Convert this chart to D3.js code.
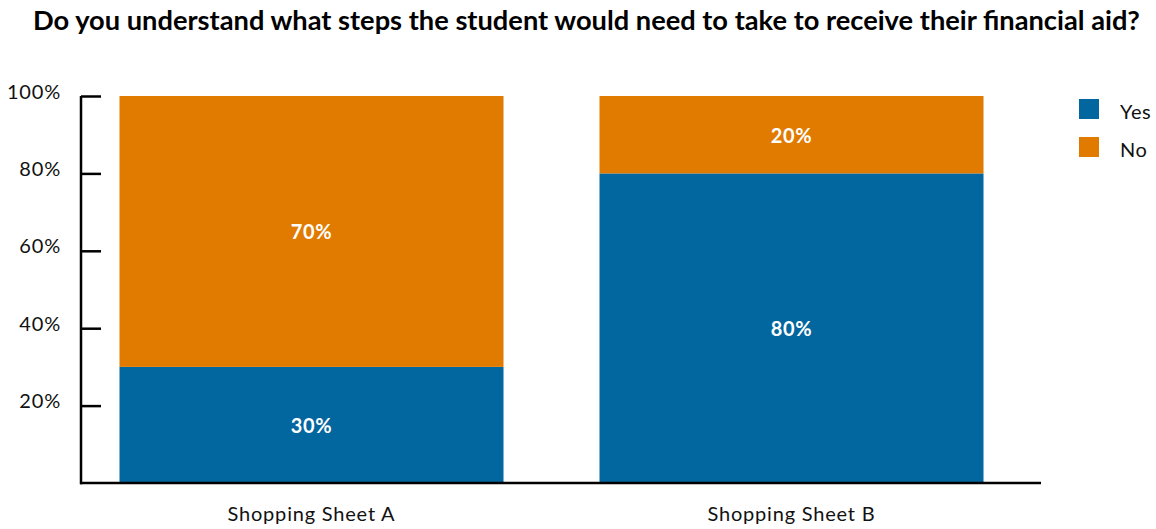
<!DOCTYPE html>
<html>
<head>
<meta charset="utf-8">
<script src="https://cdn.jsdelivr.net/npm/d3@7"></script>
<style>
  html, body { margin: 0; padding: 0; background: #fff; }
  svg { display: block; font-family: Lato, "Open Sans", sans-serif; }
</style>
</head>
<body>
<svg id="chart" width="1156" height="529"></svg>
<script>
const title = "Do you understand what steps the student would need to take to receive their financial aid?";
const categories = ["Shopping Sheet A", "Shopping Sheet B"];
const seriesNames = ["Yes", "No"];
const yesValues = [30, 80];
const noValues = [70, 20];
const yTicks = [20, 40, 60, 80, 100];
const colors = ["#02669f", "#e07b00"];

const svg = d3.select("#chart");

const rows = categories.map((c, i) => ({ cat: c, Yes: yesValues[i], No: noValues[i] }));
const stack = d3.stack().keys(seriesNames)(rows);

const x = d3.scaleBand().domain(categories).range([71.5, 1031.5]).paddingInner(0.2).paddingOuter(0.1);
const y = d3.scaleLinear().domain([0, 100]).range([483, 96]);
const color = d3.scaleOrdinal().domain(seriesNames).range(colors);

// Title
const t = svg.append("text")
  .attr("x", 33).attr("y", 30)
  .attr("font-weight", 700)
  .attr("font-size", 22)
  .attr("fill", "#000")
  .text(title);
const tw = t.node().getComputedTextLength();
t.attr("font-size", 22 * 1107 / tw);

// Bars
const g = svg.append("g");
g.selectAll("g.series").data(stack).join("g")
  .attr("class", "series")
  .attr("fill", d => color(d.key))
  .selectAll("rect").data(d => d).join("rect")
  .attr("x", d => x(d.data.cat))
  .attr("width", x.bandwidth())
  .attr("y", d => y(d[1]))
  .attr("height", d => y(d[0]) - y(d[1]));

// Value labels
stack.forEach(s => {
  g.selectAll(null).data(s).join("text")
    .attr("x", d => x(d.data.cat) + x.bandwidth() / 2)
    .attr("y", d => (y(d[0]) + y(d[1])) / 2)
    .attr("text-anchor", "middle")
    .attr("dominant-baseline", "central")
    .attr("fill", "#fff")
    .attr("font-weight", 700)
    .attr("font-size", 20)
    .attr("letter-spacing", 0.6)
    .text(d => (d[1] - d[0]) + "%");
});

// Y axis
const yAxis = d3.axisLeft(y).tickValues(yTicks).tickSize(-20).tickPadding(0).tickFormat(d => d + "%");
const ya = svg.append("g").attr("transform", "translate(81,0)").call(yAxis);
ya.select(".domain").remove();
ya.selectAll(".tick line").attr("stroke", "#000").attr("stroke-width", 2.5);
ya.selectAll(".tick text")
  .attr("x", -20).attr("dy", "0.1em")
  .attr("font-size", 20).attr("letter-spacing", 0.8).attr("fill", "#111")
  .attr("font-family", "Lato, sans-serif");
svg.append("line")
  .attr("x1", 81).attr("x2", 81).attr("y1", y(100)).attr("y2", y(0) + 1.25)
  .attr("stroke", "#000").attr("stroke-width", 2.5);

// X axis
const xAxis = d3.axisBottom(x).tickSize(0).tickPadding(24);
const xa = svg.append("g").attr("transform", `translate(0,${y(0)})`).call(xAxis);
xa.select(".domain").remove();
xa.selectAll(".tick text").attr("font-size", 20).attr("letter-spacing", 0.8).attr("fill", "#111").attr("font-family", "Lato, sans-serif");
svg.append("line")
  .attr("x1", 80).attr("x2", 1041).attr("y1", y(0)).attr("y2", y(0))
  .attr("stroke", "#000").attr("stroke-width", 2.5);

// Legend
const lg = svg.append("g");
seriesNames.forEach((s, i) => {
  lg.append("rect").attr("x", 1079).attr("y", 99 + i * 38).attr("width", 20).attr("height", 20).attr("fill", color(s));
  lg.append("text").attr("x", 1120).attr("y", 111 + i * 38).attr("dominant-baseline", "central")
    .attr("font-size", 20).attr("letter-spacing", 0.6).attr("fill", "#111").text(s);
});
</script>
</body>
</html>
